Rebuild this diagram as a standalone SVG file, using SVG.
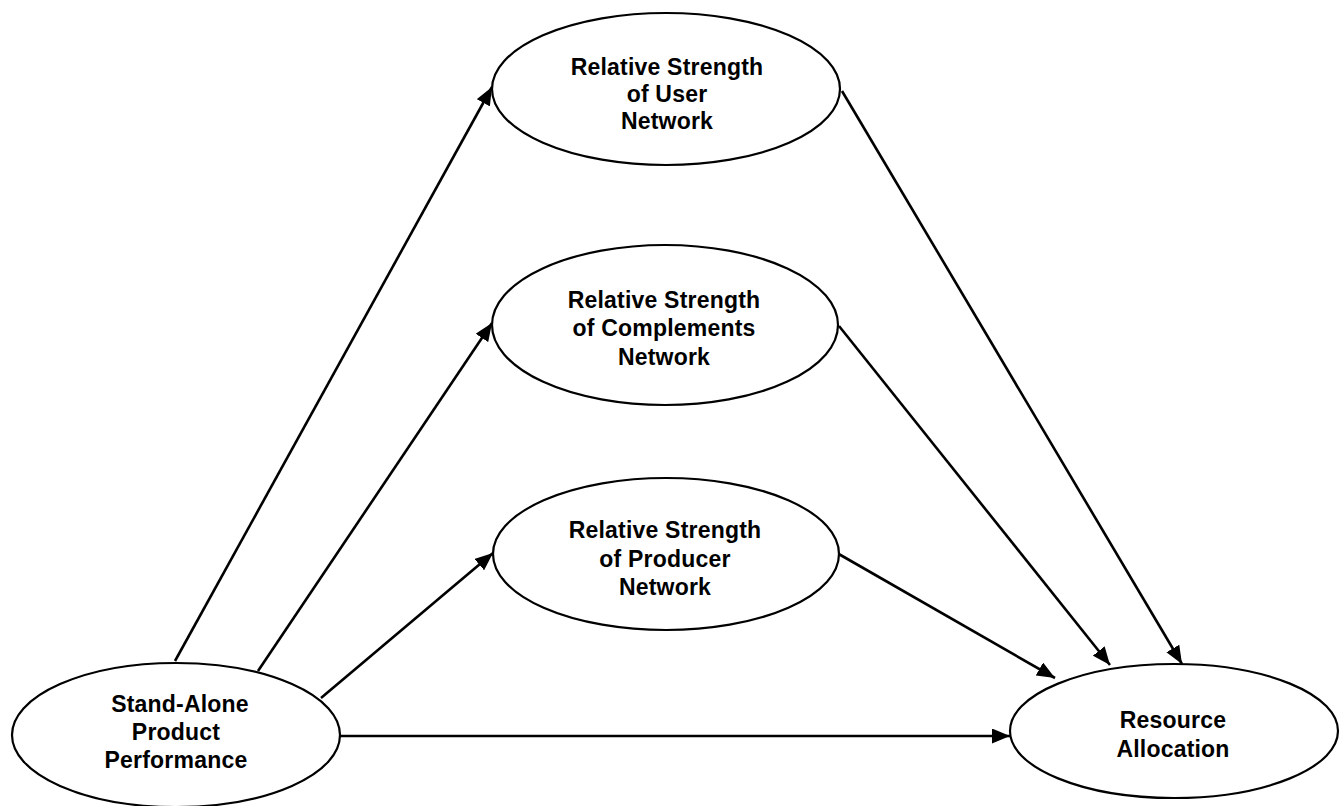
<svg xmlns="http://www.w3.org/2000/svg" width="1340" height="806" viewBox="0 0 1340 806">
<style>
.node ellipse{fill:#fff;stroke:#000;stroke-width:2.2}
.node text{font-family:"Liberation Sans",Arial,sans-serif;font-weight:bold;font-size:23px;letter-spacing:0.2px;text-anchor:middle;fill:#000}
.edges line{stroke:#000;stroke-width:2.6;marker-end:url(#ah)}
</style>
<defs>
<marker id="ah" markerUnits="userSpaceOnUse" markerWidth="19" markerHeight="15" refX="18" refY="7.5" orient="auto">
<path d="M0,0 L18,7.5 L0,15 Z" fill="#000"/>
</marker>
</defs>
<rect width="1340" height="806" fill="#fff"/>
<g class="edges" id="connectors">
<line x1="175" y1="661" x2="492" y2="87"/>
<line x1="258" y1="671" x2="492" y2="323"/>
<line x1="321" y1="698" x2="493" y2="553"/>
<line x1="340" y1="736" x2="1010" y2="736"/>
<line x1="842" y1="91" x2="1182" y2="664"/>
<line x1="839" y1="326" x2="1110" y2="665"/>
<line x1="837" y1="553" x2="1055" y2="678"/>
</g>
<g class="node" id="user">
<ellipse cx="666" cy="89" rx="174" ry="76"/>
<text x="667" y="75">Relative Strength</text>
<text x="667" y="102">of User</text>
<text x="667" y="129">Network</text>
</g>
<g class="node" id="complements">
<ellipse cx="665" cy="325" rx="173" ry="80"/>
<text x="664" y="308">Relative Strength</text>
<text x="664" y="336">of Complements</text>
<text x="664" y="365">Network</text>
</g>
<g class="node" id="producer">
<ellipse cx="666" cy="554" rx="173" ry="76"/>
<text x="665" y="538">Relative Strength</text>
<text x="665" y="567">of Producer</text>
<text x="665" y="595">Network</text>
</g>
<g class="node" id="standalone">
<ellipse cx="176" cy="735" rx="164" ry="72"/>
<text x="180" y="712">Stand-Alone</text>
<text x="176" y="740">Product</text>
<text x="176" y="768">Performance</text>
</g>
<g class="node" id="resource">
<ellipse cx="1174" cy="731" rx="164" ry="67"/>
<text x="1173" y="728">Resource</text>
<text x="1173" y="757">Allocation</text>
</g>
</svg>
